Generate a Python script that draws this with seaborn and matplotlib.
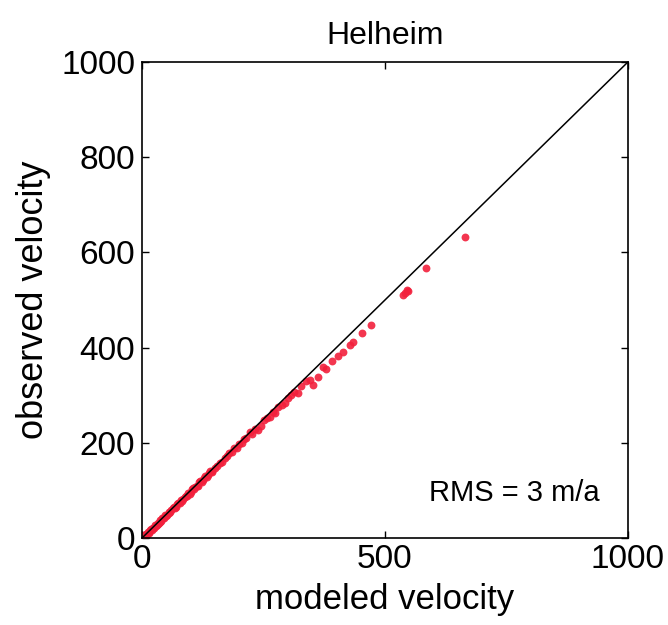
import matplotlib
matplotlib.use("Agg")
import matplotlib.pyplot as plt
import seaborn as sns
import pandas as pd

modeled = [2, 3, 4, 5, 6, 7, 8, 10, 11, 12, 14, 15, 17, 18, 20, 22, 23, 25, 26, 28, 30, 32, 33, 35, 36, 38, 40, 42, 44, 46, 48, 50, 52, 55, 56, 58, 60, 63, 65, 68, 70, 73, 75, 78, 80, 83, 85, 88, 90, 93, 95, 98, 100, 103, 105, 108, 110, 113, 115, 118, 120, 123, 125, 128, 130, 133, 135, 138, 140, 143, 145, 150, 155, 160, 165, 170, 175, 180, 185, 190, 195, 200, 205, 210, 215, 222, 226, 232, 239, 245, 252, 258, 263, 270, 274, 280, 288, 294, 300, 306, 312, 321, 328, 338, 346, 352, 363, 372, 379, 392, 404, 414, 428, 434, 452, 471, 537, 541, 545, 548, 585, 665]
observed = [3, 1, 3, 6, 5, 4, 9, 8, 9, 13, 11, 13, 16, 19, 17, 20, 22, 21, 27, 25, 27, 30, 32, 31, 37, 34, 36, 41, 43, 42, 49, 46, 48, 53, 55, 54, 58, 62, 66, 64, 66, 71, 74, 73, 79, 78, 81, 87, 89, 88, 94, 93, 96, 102, 104, 103, 108, 109, 110, 117, 119, 118, 121, 127, 131, 129, 132, 137, 141, 138, 140, 148, 152, 158, 160, 168, 172, 178, 180, 189, 190, 197, 200, 207, 210, 223, 218, 228, 227, 236, 248, 252, 255, 264, 262, 275, 280, 283, 295, 300, 306, 304, 320, 330, 332, 321, 339, 360, 355, 372, 382, 390, 405, 412, 431, 447, 510, 515, 521, 518, 567, 632]

x_ticks = [0, 500, 1000]
y_ticks = [0, 200, 400, 600, 800, 1000]
title = "Helheim"
rms_text = "RMS = 3 m/a"

sns.set_theme(style="white")
plt.rcParams["font.family"] = ["Liberation Sans", "DejaVu Sans"]
plt.rcParams["text.color"] = "black"
plt.rcParams["axes.labelcolor"] = "black"

df = pd.DataFrame({"modeled": modeled, "observed": observed})

fig = plt.figure(figsize=(6.68, 6.25), dpi=100)
ax = fig.add_axes([0.2126, 0.1392, 0.7274, 0.7616])

sns.scatterplot(data=df, x="modeled", y="observed", ax=ax, color="#f2203c",
                s=32, linewidth=0, alpha=0.9, zorder=2)
ax.plot([0, 1000], [0, 1000], color="black", lw=1.1, zorder=3)

ax.set_xlim(0, 1000)
ax.set_ylim(0, 1000)
ax.set_xticks(x_ticks)
ax.set_yticks(y_ticks)
ax.tick_params(direction="in", length=5, width=1, labelsize=24, colors="black",
               top=True, right=True, bottom=True, left=True)
ax.tick_params(axis="x", pad=4)
ax.tick_params(axis="y", pad=5)
for sp in ax.spines.values():
    sp.set_color("black")
    sp.set_linewidth(1.2)

ax.set_xlabel("modeled velocity", fontsize=25, labelpad=6)
ax.set_ylabel("observed velocity", fontsize=26, labelpad=7)
ax.set_title(title, fontsize=23, pad=13)
ax.text(0.942, 0.0945, rms_text, transform=ax.transAxes, ha="right", va="center",
        fontsize=21)

fig.savefig("out.png", dpi=100, facecolor="white")
